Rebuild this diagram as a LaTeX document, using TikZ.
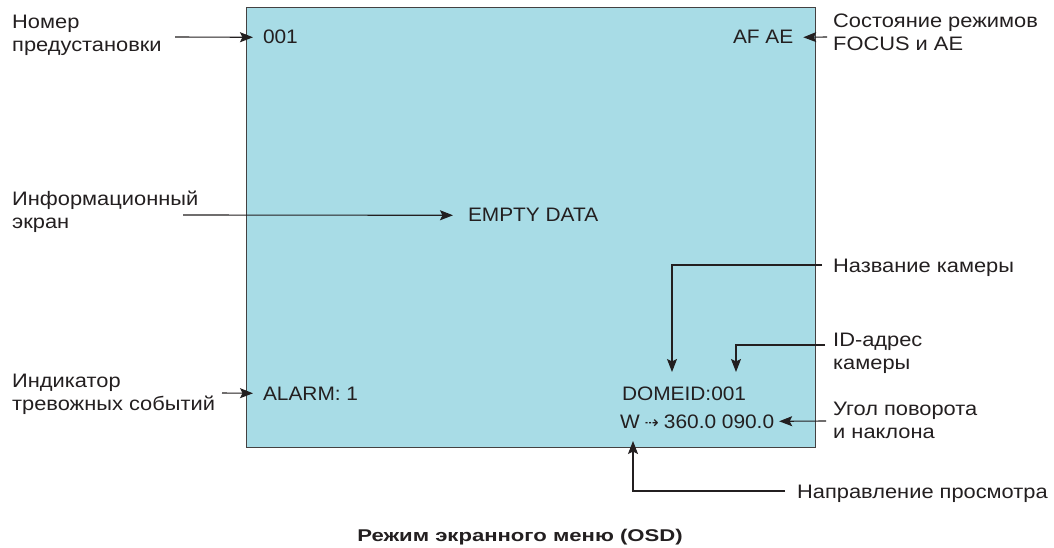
\documentclass[tikz,border=0pt]{standalone}
\usepackage{fontspec}
\setmainfont{Liberation Sans}
\newfontfamily\labelfont{Liberation Sans}[FakeStretch=1.12]
\newfontfamily\osdfont{Liberation Sans}[FakeStretch=1.07]
\newfontfamily\titlefont{Liberation Sans}[FakeStretch=1.3]
\newfontfamily\dejavu{DejaVu Sans}
\usetikzlibrary{arrows.meta}
\definecolor{screen}{HTML}{A8DCE6}
\definecolor{ink}{HTML}{231F20}
\begin{document}
\begin{tikzpicture}[x=1pt,y=-1pt,
  lbl/.style={inner sep=0pt, align=left, anchor=base west, text=ink,
    font=\labelfont\fontsize{19.5}{23}\selectfont},
  osd/.style={inner sep=0pt, outer xsep=10pt, anchor=base west, text=ink,
    font=\osdfont\fontsize{19.5}{23}\selectfont},
  arr/.style={-{Stealth[length=13pt,width=10pt,inset=2.5pt]}, line width=1.1pt, draw=ink},
  ln/.style={line width=1.1pt, draw=ink}]
\useasboundingbox (0,0) rectangle (1054,548);
\fill[white] (0,0) rectangle (1054,548);
\draw[fill=screen, line width=1pt, draw=ink!85] (246,8) rectangle (815,447);

% OSD texts
\node[osd] (preset) at (253,44) {001};
\node[osd] (afae) at (723,44) {AF AE};
\node[osd, outer xsep=15pt] (empty) at (453,222) {EMPTY DATA};
\node[osd] (alarm) at (253,400) {ALARM: 1};
\node[osd] (domeid) at (612,400) {DOMEID:001};
\node[osd, outer xsep=5pt] (angle) at (615,428) {W\hspace{5pt}{\dejavu\fontsize{17}{17}\selectfont ⇢}\hspace{5pt}360.0 090.0};

% labels
\node[lbl] (lpreset) at (12,52) {Номер\\предустановки};
\node[lbl] (lafae) at (833,51) {Состояние режимов\\FOCUS и AE};
\node[lbl] (linfo) at (12,228) {Информационный\\экран};
\node[lbl] (lname) at (833,272) {Название камеры};
\node[lbl] (lid) at (833,369) {ID-адрес\\камеры};
\node[lbl] (lalarm) at (12,410) {Индикатор\\тревожных событий};
\node[lbl] (langle) at (833,438) {Угол поворота\\и наклона};
\node[lbl] (ldir) at (797,498) {Направление просмотра};
\node[inner sep=0pt, anchor=base, text=ink, font=\titlefont\fontsize{17}{17}\selectfont\bfseries] (title) at (520,541) {Режим экранного меню (OSD)};

% coordinates
\coordinate (pA) at (175,37);
\coordinate (pB) at (827,37);
\coordinate (pC) at (183,215);
\coordinate (pD) at (222,393);
\coordinate (pE) at (826,421);
\coordinate (nA) at (822,265);
\coordinate (nB) at (672,265);
\coordinate (nT) at (672,372);
\coordinate (iA) at (825,345);
\coordinate (iB) at (736,345);
\coordinate (iT) at (736,372);
\coordinate (dA) at (785,491);
\coordinate (dB) at (633,491);
\coordinate (dT) at (633,441);

% connectors
\draw[arr] (pA) -- (preset.west);
\draw[arr] (pB) -- (afae.east);
\draw[arr] (pC) -- (empty.west);
\draw[arr] (pD) -- (alarm.west);
\draw[arr] (pE) -- (angle.east);
\draw[arr] (nA) -- (nB) -- (nT);
\draw[arr] (iA) -- (iB) -- (iT);
\draw[arr] (dA) -- (dB) -- (dT);
\end{tikzpicture}
\end{document}
